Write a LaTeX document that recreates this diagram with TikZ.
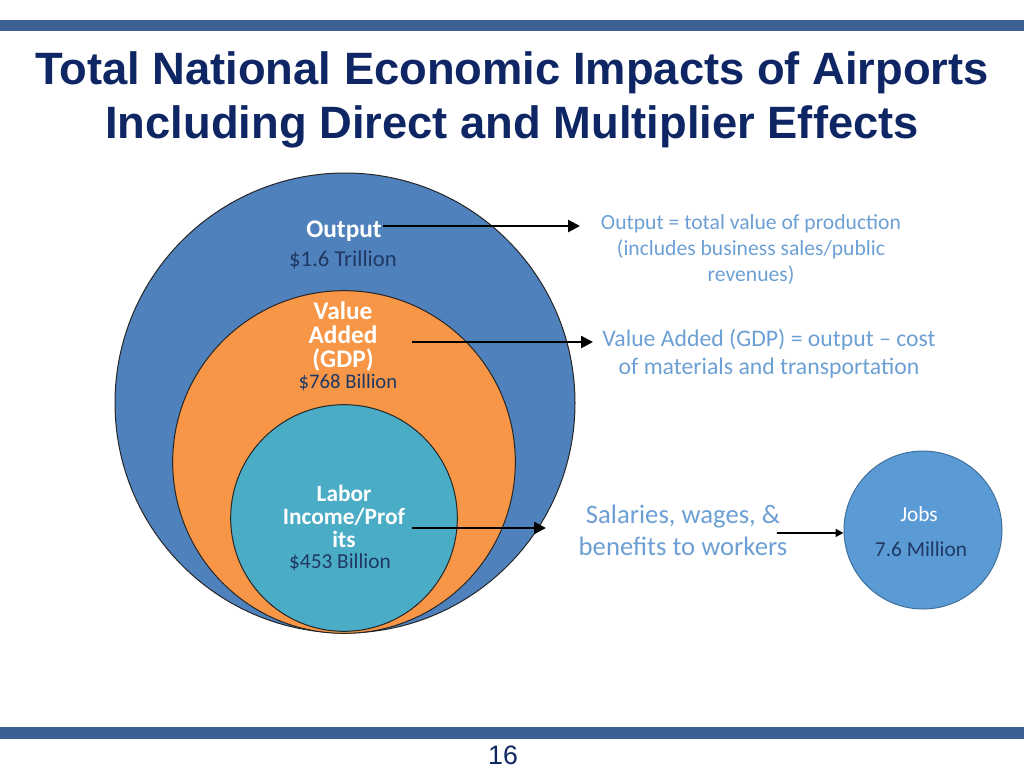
\documentclass[tikz,border=0pt]{standalone}
\usepackage{fontspec}
\setmainfont{Carlito}
\newfontfamily\titlefont{Liberation Sans}
\usetikzlibrary{arrows.meta}
\definecolor{barblue}{RGB}{58,96,148}
\definecolor{titlenavy}{RGB}{14,38,100}
\definecolor{outblue}{RGB}{79,129,189}
\definecolor{vaorange}{RGB}{247,150,70}
\definecolor{labteal}{RGB}{75,172,198}
\definecolor{jobblue}{RGB}{91,155,213}
\definecolor{jobedge}{RGB}{65,113,156}
\definecolor{desclight}{RGB}{108,160,212}
\definecolor{valnavy}{RGB}{31,56,100}
\tikzset{
  ring/.style={circle, draw=black!85, line width=0.75pt, inner sep=0pt},
  headlbl/.style={font=\fontsize{19}{18}\selectfont\bfseries, text=white, align=center, inner sep=1pt},
  vallbl/.style={font=\fontsize{16}{17}\selectfont, text=valnavy, inner sep=1pt},
  desc/.style={text=desclight, align=center, inner sep=1pt},
  bigarrow/.style={-{Triangle[length=9pt,width=9pt]}, line width=1.9pt, black},
  smallarrow/.style={-{Triangle[length=6pt,width=6pt]}, line width=1.3pt, black},
}
\begin{document}
\begin{tikzpicture}[x=0.75pt,y=-0.75pt]
\useasboundingbox (0,0) rectangle (1024,768);
% bars
\fill[barblue] (0,20) rectangle (1024,31);
\fill[barblue] (0,727) rectangle (1024,739);
% title
\node[text=titlenavy, font=\titlefont\bfseries\fontsize{34}{40}\selectfont, align=center] (title) at (512,100)
  {Total National Economic Impacts of Airports\\Including Direct and Multiplier Effects};
% circles
\node[ring, fill=outblue, minimum size=345pt] (outer) at (345,403) {};
\node[ring, fill=vaorange, minimum size=257pt] (mid) at (344,462) {};
\node[ring, fill=labteal, minimum size=170pt] (inner) at (344,518) {};
\node[circle, draw=jobedge, line width=0.75pt, fill=jobblue, minimum size=118.5pt, inner sep=0pt] (jobs) at (923,530) {};
% labels in circles
\node[headlbl] (outlbl) at (344,231) {Output};
\node[vallbl, font=\fontsize{17}{18}\selectfont] (outval) at (343,260) {\$1.6 Trillion};
\node[headlbl] (valbl) at (343,337) {Value\\Added\\(GDP)};
\node[vallbl, font=\fontsize{15.5}{17}\selectfont] (vaval) at (348,382) {\$768 Billion};
\node[headlbl, font=\fontsize{17.5}{17.3}\selectfont\bfseries] (lablbl) at (344,516) {Labor\\Income/Prof\\its};
\node[vallbl] (labval) at (340,562) {\$453 Billion};
\node[font=\fontsize{16}{16}\selectfont, text=white] (jobslbl) at (919,514) {Jobs};
\node[font=\fontsize{16}{16}\selectfont, text=valnavy] (jobsval) at (921,549) {7.6 Million};
% descriptions
\node[desc, font=\fontsize{16.2}{19.5}\selectfont] (outdesc) at (751,249)
  {Output = total value of production\\(includes business sales/public\\revenues)};
\node[desc, font=\fontsize{17.8}{21}\selectfont] (vadesc) at (769,354)
  {Value Added (GDP) = output -- cost\\of materials and transportation};
\node[desc, font=\fontsize{20}{24}\selectfont] (labdesc) at (683,530)
  {Salaries, wages, \&\\benefits to workers};
% arrows
\coordinate (a1e) at (580,226);
\coordinate (a2e) at (593,342);
\coordinate (a3e) at (546,528);
\draw[bigarrow] (outlbl.east |- a1e) -- (a1e);
\draw[bigarrow] (412,342) -- (a2e);
\draw[bigarrow] (412,528) -- (a3e);
\draw[smallarrow] (labdesc.east |- jobs.west) ++(-12,3) -- ([yshift=-2.2pt]jobs.west);
% page number
\node[text=titlenavy, font=\titlefont\fontsize{20}{22}\selectfont] (page) at (503,755) {16};
\end{tikzpicture}
\end{document}
